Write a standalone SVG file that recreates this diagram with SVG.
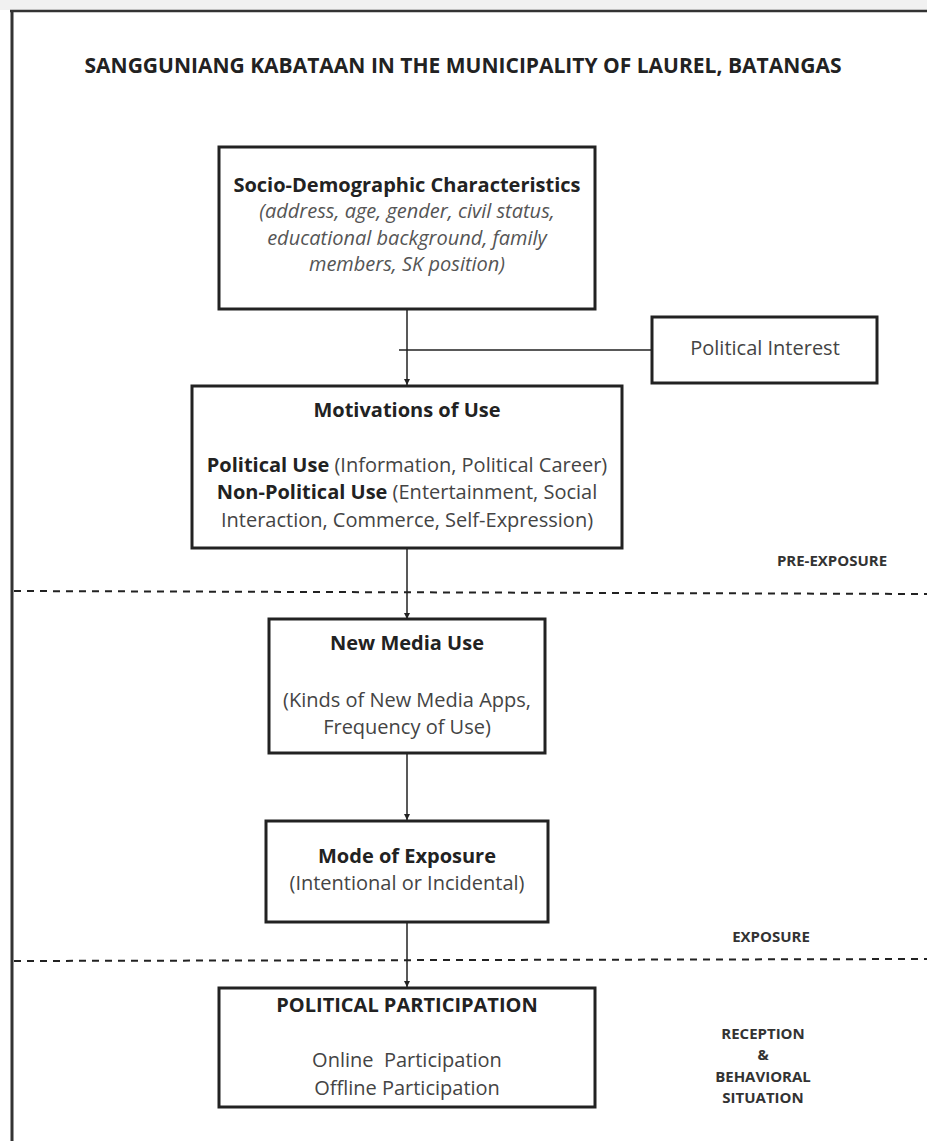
<svg xmlns="http://www.w3.org/2000/svg" width="927" height="1141" viewBox="0 0 927 1141">
  <defs>
    <marker id="arrow" viewBox="0 0 10 10" refX="10" refY="5" markerWidth="6" markerHeight="7" markerUnits="userSpaceOnUse" orient="auto">
      <path d="M0,0 L10,5 L0,10 z" fill="#222"/>
    </marker>
  </defs>
  <style>
    text { font-family: "Open Sans", "Liberation Sans", sans-serif; }
    .title { font-size: 21px; font-weight: bold; fill: #222; }
    .box { fill: #fff; stroke: #222; stroke-width: 3; }
    .h { font-size: 20px; font-weight: bold; fill: #222; text-anchor: middle; }
    .b { font-size: 20px; fill: #444; text-anchor: middle; }
    .i { font-size: 20px; font-style: italic; fill: #555; text-anchor: middle; }
    .lbl { font-size: 15px; font-weight: bold; fill: #333; text-anchor: middle; }
    .bd { font-weight: bold; fill: #222; }
    .conn { stroke: #222; stroke-width: 1.5; fill: none; }
    .dash { stroke: #222; stroke-width: 2; stroke-dasharray: 7 6; fill: none; }
  </style>
  <rect x="0" y="0" width="927" height="10" fill="#f1f1f1"/>
  <rect x="0" y="10" width="927" height="1131" fill="#fff"/>
  <line x1="10" y1="11" x2="927" y2="11" stroke="#333" stroke-width="2.5"/>
  <line x1="12" y1="10" x2="12" y2="1141" stroke="#333" stroke-width="3"/>

  <text class="title" x="463" y="73" text-anchor="middle">SANGGUNIANG KABATAAN IN THE MUNICIPALITY OF LAUREL, BATANGAS</text>

  <g id="connectors">
    <line class="conn" x1="407" y1="309" x2="407" y2="385" marker-end="url(#arrow)"/>
    <line class="conn" x1="399" y1="350" x2="652" y2="350"/>
    <line class="conn" x1="407" y1="548" x2="407" y2="619" marker-end="url(#arrow)"/>
    <line class="conn" x1="407" y1="753" x2="407" y2="820" marker-end="url(#arrow)"/>
    <line class="conn" x1="407" y1="922" x2="407" y2="987" marker-end="url(#arrow)"/>
  </g>

  <g id="dividers">
    <line class="dash" x1="14" y1="591" x2="927" y2="594"/>
    <line class="dash" x1="14" y1="961" x2="927" y2="959"/>
  </g>

  <g id="socio">
    <rect class="box" x="219" y="147" width="376" height="162"/>
    <text class="h" x="407" y="192">Socio-Demographic Characteristics</text>
    <text class="i" x="407" y="218">(address, age, gender, civil status,</text>
    <text class="i" x="407" y="245">educational background, family</text>
    <text class="i" x="407" y="271">members, SK position)</text>
  </g>

  <g id="political-interest">
    <rect class="box" x="652" y="317" width="225" height="66"/>
    <text class="b" x="765" y="355">Political Interest</text>
  </g>

  <g id="motivations">
    <rect class="box" x="192" y="386" width="430" height="162"/>
    <text class="h" x="407" y="417">Motivations of Use</text>
    <text class="b" x="407" y="472"><tspan class="bd">Political Use</tspan> (Information, Political Career)</text>
    <text class="b" x="407" y="499"><tspan class="bd">Non-Political Use</tspan> (Entertainment, Social</text>
    <text class="b" x="407" y="527">Interaction, Commerce, Self-Expression)</text>
  </g>

  <g id="new-media">
    <rect class="box" x="269" y="619" width="276" height="134"/>
    <text class="h" x="407" y="650">New Media Use</text>
    <text class="b" x="407" y="707">(Kinds of New Media Apps,</text>
    <text class="b" x="407" y="734">Frequency of Use)</text>
  </g>

  <g id="mode-exposure">
    <rect class="box" x="266" y="821" width="282" height="101"/>
    <text class="h" x="407" y="863">Mode of Exposure</text>
    <text class="b" x="407" y="890">(Intentional or Incidental)</text>
  </g>

  <g id="participation">
    <rect class="box" x="219" y="988" width="376" height="119"/>
    <text class="h" x="407" y="1012">POLITICAL PARTICIPATION</text>
    <text class="b" x="407" y="1067" xml:space="preserve">Online  Participation</text>
    <text class="b" x="407" y="1095">Offline Participation</text>
  </g>

  <g id="stage-labels">
    <text class="lbl" x="832" y="566">PRE-EXPOSURE</text>
    <text class="lbl" x="771" y="942">EXPOSURE</text>
    <text class="lbl" x="763" y="1039">RECEPTION</text>
    <text class="lbl" x="763" y="1060">&amp;</text>
    <text class="lbl" x="763" y="1082">BEHAVIORAL</text>
    <text class="lbl" x="763" y="1103">SITUATION</text>
  </g>
</svg>
